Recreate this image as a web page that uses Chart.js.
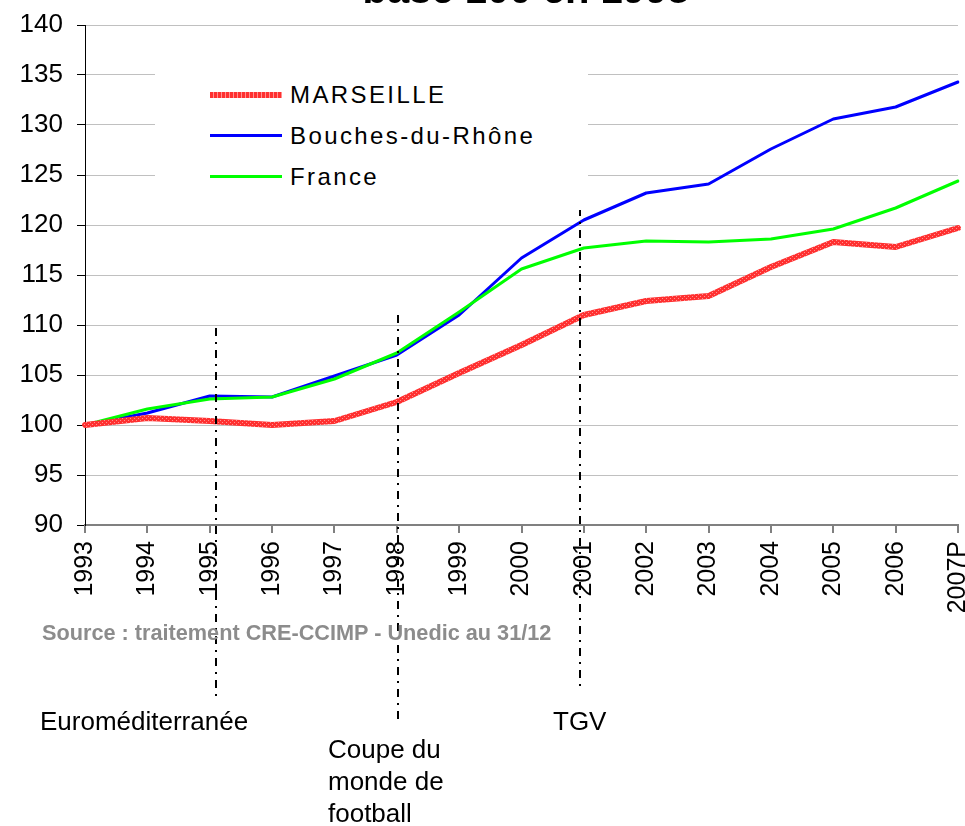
<!DOCTYPE html>
<html>
<head>
<meta charset="utf-8">
<script src="https://cdn.jsdelivr.net/npm/chart.js@4.4.0/dist/chart.umd.min.js"></script>
<style>
  body { margin: 0; background: #fff; }
  #wrap { position: relative; width: 965px; height: 826px; overflow: hidden; font-family: Arial, "Liberation Sans", sans-serif; }
  #graph { position: absolute; left: 0; top: 0; }
  #titre { position: absolute; left: 0; width: 1052px; top: -31px; text-align: center; font-weight: bold; font-size: 40px; line-height: 40px; }
  #legende { position: absolute; left: 155px; top: 45px; width: 433px; height: 165px; background: #fff; }
  .ligne-leg { position: absolute; left: 55px; width: 72px; }
  .txt-leg { position: absolute; left: 135px; font-size: 24px; line-height: 24px; letter-spacing: 2.4px; white-space: nowrap; }
  .note { position: absolute; font-size: 26px; line-height: 26px; white-space: nowrap; }
  #source { position: absolute; left: 42px; top: 622px; font-size: 21.7px; line-height: 21px; font-weight: bold; color: #8c8c8c; white-space: nowrap; }
</style>
</head>
<body>
<div id="wrap">
  <canvas id="graph" width="965" height="826"></canvas>
  <div id="titre">base 100 en 1993</div>
  <div id="legende">
    <div class="ligne-leg" style="top:47px;height:6px;background:repeating-linear-gradient(90deg,#ff3030 0 3px,#ff9090 3px 4px);"></div>
    <div class="txt-leg" style="top:38px;">MARSEILLE</div>
    <div class="ligne-leg" style="top:89px;height:3px;background:#0000ff;"></div>
    <div class="txt-leg" style="top:79px;">Bouches-du-Rhône</div>
    <div class="ligne-leg" style="top:130px;height:3px;background:#00ff00;"></div>
    <div class="txt-leg" style="top:120px;">France</div>
  </div>
  <div id="source">Source : traitement CRE-CCIMP - Unedic au 31/12</div>
  <div class="note" style="left:40px;top:708px;">Euroméditerranée</div>
  <div class="note" style="left:553px;top:708px;">TGV</div>
  <div class="note" style="left:328px;top:733px;line-height:32px;">Coupe du<br>monde de<br>football</div>
</div>
<script>
// annees et series (base 100 en 1993)
const annees = ['1993', '1994', '1995', '1996', '1997', '1998', '1999', '2000', '2001', '2002', '2003', '2004', '2005', '2006', '2007P'];
const marseille = [100, 100.7, 100.4, 100.0, 100.4, 102.3, 105.2, 108.0, 111.0, 112.4, 112.9, 115.8, 118.3, 117.8, 119.7];
const bouchesDuRhone = [100, 101.2, 102.9, 102.8, 104.9, 107.0, 111.0, 116.7, 120.5, 123.2, 124.1, 127.6, 130.6, 131.8, 134.3];
const france = [100, 101.6, 102.6, 102.8, 104.6, 107.2, 111.3, 115.6, 117.7, 118.4, 118.3, 118.6, 119.6, 121.7, 124.4];

// echelle verticale
const yMin = 90;
const yMax = 140;
const yPas = 5;

// reperes (evenements)
const evenements = ['1995', '1998', '2001'];
const reperes = [
    { dx: 6, haut: 328, bas: 700 },
    { dx: 1, haut: 315, bas: 722 },
    { dx: -4, haut: 208, bas: 690 }
];

// trait rouge hachure
function motifRouge() {
    const c = document.createElement('canvas');
    c.width = 4;
    c.height = 4;
    const g = c.getContext('2d');
    g.fillStyle = '#ff3030';
    g.fillRect(0, 0, 4, 4);
    g.fillStyle = '#ff9090';
    g.fillRect(0, 0, 1, 1);
    g.fillRect(2, 2, 1, 1);
    return g.createPattern(c, 'repeat');
}

const lignesReperes = {
    id: 'lignesReperes',
    afterDraw(chart) {
        const ctx = chart.ctx;
        const x = chart.scales.x;
        ctx.save();
        ctx.strokeStyle = '#000';
        ctx.lineWidth = 2;
        ctx.setLineDash([8, 6, 2, 6]);
        evenements.forEach((a, i) => {
            const px = Math.round(x.getPixelForValue(annees.indexOf(a))) + reperes[i].dx;
            ctx.beginPath();
            ctx.moveTo(px, reperes[i].haut);
            ctx.lineTo(px, reperes[i].bas);
            ctx.stroke();
        });
        ctx.restore();
    }
};

const ctx = document.getElementById('graph').getContext('2d');

const data = {
    labels: annees,
    datasets: [
        { label: 'MARSEILLE', data: marseille, borderColor: motifRouge(), borderWidth: 6, order: 0 },
        { label: 'Bouches-du-Rhône', data: bouchesDuRhone, borderColor: '#0000ff', borderWidth: 3, order: 2 },
        { label: 'France', data: france, borderColor: '#00ff00', borderWidth: 3, order: 1 }
    ]
};

const config = {
    type: 'line',
    data: data,
    options: {
        responsive: false,
        animation: false,
        devicePixelRatio: 1,
        layout: { padding: { top: 25, right: 7, left: 0, bottom: 0 } },
        elements: {
            point: { radius: 0 },
            line: { tension: 0, borderCapStyle: 'round', borderJoinStyle: 'round' }
        },
        plugins: {
            legend: { display: false },
            tooltip: { enabled: false }
        },
        scales: {
            x: {
                offset: false,
                grid: { drawOnChartArea: false, tickLength: 8, color: '#808080', lineWidth: 2 },
                border: { color: '#808080', width: 2 },
                ticks: {
                    color: '#000',
                    font: { family: 'Arial', size: 25 },
                    minRotation: 90,
                    maxRotation: 90,
                    autoSkip: false,
                    padding: 8
                },
                afterFit(s) {
                    s.height = 301;
                    s.paddingLeft = 0;
                    s.paddingRight = 0;
                }
            },
            y: {
                min: yMin,
                max: yMax,
                grid: { color: '#c0c0c0', lineWidth: 1, tickLength: 8, tickColor: '#000' },
                border: { color: '#000', width: 1 },
                ticks: {
                    stepSize: yPas,
                    color: '#000',
                    font: { family: 'Arial', size: 26 },
                    padding: 14
                },
                afterFit(s) {
                    s.width = 85;
                    s.paddingTop = 0;
                    s.paddingBottom = 0;
                }
            }
        }
    },
    plugins: [lignesReperes]
};

new Chart(ctx, config);
</script>
</body>
</html>
